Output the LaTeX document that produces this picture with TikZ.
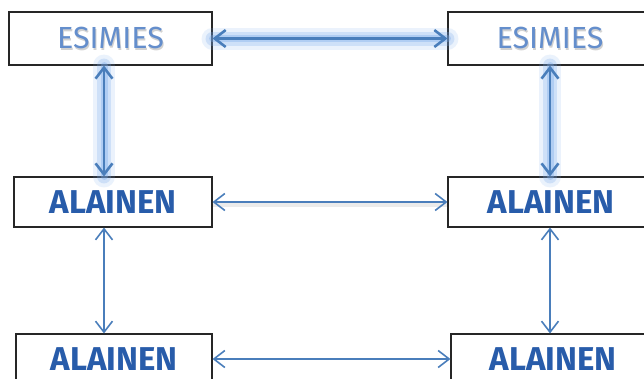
\documentclass[tikz,border=0pt]{standalone}
\usepackage{fontspec}
\setmainfont{Fira Sans}
\usetikzlibrary{arrows.meta}

\definecolor{linkblue}{RGB}{74,126,187}
\definecolor{glowblue}{RGB}{120,170,235}
\definecolor{bossblue}{RGB}{100,142,204}
\definecolor{staffblue}{RGB}{40,92,170}

\newcommand{\shadowtext}[2]{{\makebox[0pt][l]{\hspace{1pt}\raisebox{-2pt}{\color{black!18}#2}}\color{#1}#2}}

\tikzset{
    box/.style={draw=black!85, line width=1.1pt, fill=white, inner sep=0pt},
    boss/.style={box, minimum height=53pt, font=\fontsize{30.5}{32}\selectfont},
    staff/.style={box, minimum height=50pt, font=\fontsize{33}{35}\selectfont\bfseries},
    link/.style={linkblue, line width=1.6pt, {Straight Barb[length=11pt,width=17pt]}-{Straight Barb[length=11pt,width=17pt]}},
    glow/.style={
        preaction={draw, -, glowblue, opacity=.15, line width=22pt, line cap=round},
        preaction={draw, -, glowblue, opacity=.25, line width=14pt, line cap=round},
        preaction={draw, -, glowblue, opacity=.35, line width=7pt, line cap=round},
        line width=2.6pt},
    shade/.style={preaction={draw, -, black!8, line width=4pt, transform canvas={yshift=-3pt}}}
}

\begin{document}
\begin{tikzpicture}[x=1pt, y=-1pt]
    \useasboundingbox (0,0) rectangle (644,378);

    \coordinate (colL) at (104,0);
    \coordinate (colR) at (550,0);

    \node[boss, minimum width=203pt] (e1) at (110.5,38.5) {\shadowtext{bossblue}{ESIMIES}};
    \node[boss, minimum width=204pt] (e2) at (550,38.5) {\shadowtext{bossblue}{ESIMIES}};
    \node[staff, minimum width=198pt] (a1) at (113,202) {\color{staffblue}ALAINEN};
    \node[staff, minimum width=206pt] (a2) at (551,202) {\color{staffblue}ALAINEN};
    \node[staff, minimum width=196pt] (b1) at (114,359) {\color{staffblue}ALAINEN};
    \node[staff, minimum width=204pt] (b2) at (553,359) {\color{staffblue}ALAINEN};

    % bosses
    \draw[link, glow] (e1.east) -- (e2.west);
    \draw[link, glow] (e1.south -| colL) -- (a1.north -| colL);
    \draw[link, glow] (e2.south -| colR) -- (a2.north -| colR);

    % staff
    \draw[link, shade] (a1.east) -- (a2.west);
    \draw[link] (a1.south -| colL) -- (b1.north -| colL);
    \draw[link] (a2.south -| colR) -- (b2.north -| colR);
    \draw[link] (b1.east) -- (b2.west);
\end{tikzpicture}
\end{document}
